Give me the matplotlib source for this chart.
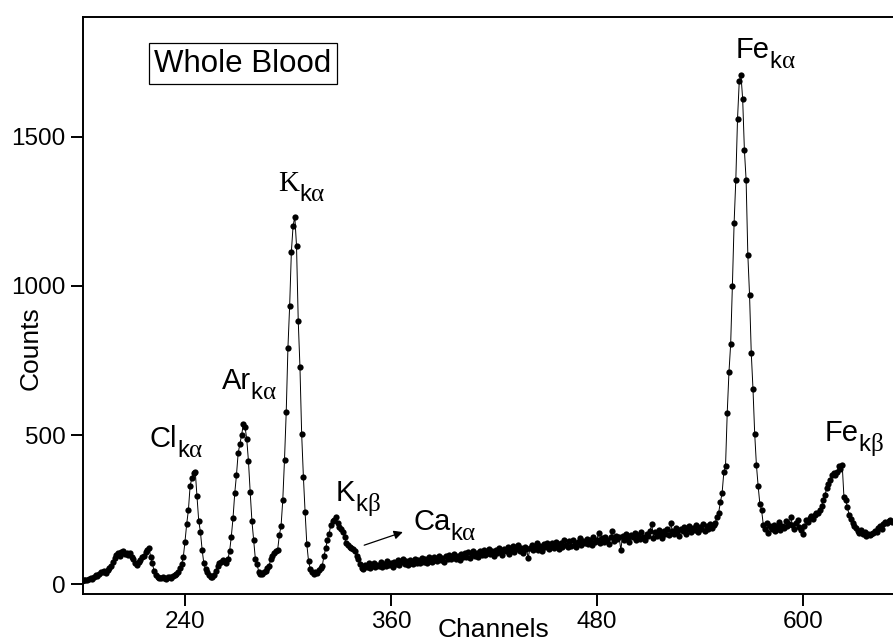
import numpy as np
import matplotlib.pyplot as plt

plt.rcParams['font.family'] = ['Liberation Sans', 'DejaVu Sans']

# spectrum, one value per channel starting at channel 180
first_channel = 180

# 180 - 343 : Cl, Ar, K peaks
counts_low = [
    12, 14, 15, 13, 18, 20, 19, 25, 30, 28,
    36, 42, 40, 45, 38, 48, 55, 62, 75, 88,
    97, 104, 96, 108, 110, 101, 106, 98, 104, 92,
    84, 72, 66, 76, 82, 90, 96, 108, 116, 123,
    92, 70, 45, 32, 26, 22, 20, 24, 21, 19,
    23, 25, 22, 28, 30, 34, 42, 54, 68, 90,
    143, 202, 249, 330, 355, 372, 377, 296, 213, 176,
    115, 70, 50, 40, 32, 26, 24, 30, 45, 62,
    70, 76, 81, 78, 70, 85, 110, 160, 222, 305,
    366, 440, 470, 500, 536, 528, 486, 412, 309, 213,
    148, 86, 67, 42, 36, 34, 40, 44, 54, 62,
    84, 95, 106, 112, 115, 165, 196, 283, 418, 577,
    793, 933, 1114, 1201, 1232, 1134, 883, 729, 503, 361,
    242, 135, 78, 52, 40, 35, 42, 38, 48, 55,
    62, 95, 120, 150, 170, 199, 212, 215, 227, 205,
    193, 185, 176, 160, 137, 130, 126, 120, 118, 112,
    95, 85, 68, 54,
]

# 344 - 548 : rising background (Ca region)
counts_mid = [
    52, 66, 58, 70, 55, 63, 72, 57, 66, 60,
    74, 58, 69, 62, 77, 64, 71, 59, 75, 68,
    80, 66, 74, 84, 69, 77, 63, 82, 73, 68,
    86, 72, 81, 70, 89, 76, 84, 71, 90, 79,
    75, 92, 83, 78, 95, 80, 88, 76, 94, 85,
    98, 84, 92, 102, 86, 96, 81, 100, 91, 105,
    93, 108, 88, 101, 112, 95, 104, 90, 110, 99,
    115, 97, 106, 118, 100, 111, 94, 116, 104, 121,
    108, 99, 119, 112, 124, 103, 116, 127, 107, 118,
    130, 111, 122, 106, 125, 117, 88, 121, 132, 114,
    126, 138, 116, 129, 111, 134, 124, 140, 119, 131,
    137, 122, 143, 130, 118, 139, 126, 147, 133, 125,
    144, 129, 150, 136, 124, 141, 155, 132, 146, 138,
    152, 135, 147, 130, 158, 142, 149, 171, 137, 154,
    141, 160, 148, 135, 157, 180, 144, 163, 151, 158,
    115, 162, 149, 168, 155, 143, 166, 157, 171, 150,
    165, 152, 174, 160, 147, 170, 163, 178, 202, 156,
    176, 161, 182, 168, 155, 179, 170, 185, 164, 206,
    180, 167, 189, 175, 162, 186, 178, 193, 170, 184,
    195, 174, 188, 181, 199, 176, 192, 184, 201, 179,
    194, 185, 203, 190, 198,
]

# 549 - 652 : Fe peaks
counts_high = [
    205, 225, 240, 275, 305, 375, 395, 575, 710, 805,
    1000, 1210, 1355, 1560, 1685, 1707, 1625, 1455, 1355, 1105,
    970, 775, 655, 505, 400, 330, 270, 250, 200, 185,
    205, 172, 195, 186, 200, 178, 193, 208, 182, 197,
    188, 212, 194, 203, 225, 198, 186, 206, 214, 192,
    182, 168, 196, 214, 208, 221, 228, 219, 233, 240,
    238, 249, 262, 283, 300, 322, 335, 350, 366, 372,
    366, 377, 395, 385, 400, 294, 282, 260, 232, 220,
    204, 195, 188, 178, 171, 182, 168, 175, 162, 170,
    165, 168, 172, 180, 176, 188, 195, 186, 202, 210,
    204, 212, 215, 208,
]

counts = counts_low + counts_mid + counts_high
channels = np.arange(first_channel, first_channel + len(counts))

x_ticks = [240, 360, 480, 600]
y_ticks = [0, 500, 1000, 1500]

# element, greek letter, label position (channel, counts), serif main letter
peak_labels = [
    ("Cl", "\u03b1", 219.6, 461, False),
    ("Ar", "\u03b1", 261.4, 654, False),
    ("K", "\u03b1", 294.3, 1319, True),
    ("K", "\u03b2", 327.9, 279, False),
    ("Ca", "\u03b1", 373.0, 182, False),
    ("Fe", "\u03b1", 560.9, 1763, False),
    ("Fe", "\u03b2", 612.7, 481, False),
]

fig = plt.figure(figsize=(8.93, 6.41), dpi=100)
ax = fig.add_axes([0.0929, 0.0738, 0.9071, 0.9002])

ax.plot(channels, counts, color='black', lw=0.7, marker='o',
        markersize=4.5, markerfacecolor='black', markeredgewidth=0)

ax.set_xlim(180.55, 652.6)
ax.set_ylim(-31.5, 1902)
ax.set_xticks(x_ticks)
ax.set_yticks(y_ticks)
ax.tick_params(direction='out', length=8.6, width=1.4, labelsize=17.5, pad=4)
ax.tick_params(axis='x', pad=4)
for side in ['left', 'bottom', 'top']:
    ax.spines[side].set_linewidth(1.4)
ax.spines['right'].set_visible(False)

ax.set_xlabel("Channels", fontsize=19)
ax.xaxis.set_label_coords(0.507, -0.042)
ax.set_ylabel("Counts", fontsize=19)
ax.yaxis.set_label_coords(-0.05, 0.426)

ax.text(273.8, 1745, "Whole Blood", ha='center', va='center', fontsize=22.5,
        bbox=dict(boxstyle='square,pad=0.17', fc='white', ec='black', lw=0.9))

for elem, greek, x, y, serif in peak_labels:
    fam = 'Liberation Serif' if serif else 'Liberation Sans'
    main = ax.text(x, y, elem, fontsize=21, family=fam, ha='left', va='baseline')
    k = ax.annotate('k', xy=(1, 0), xycoords=main, xytext=(0, -6.5),
                    textcoords='offset points', fontsize=17,
                    family='Liberation Sans', ha='left', va='bottom')
    ax.annotate(greek, xy=(1, 0), xycoords=k, xytext=(0, 0),
                textcoords='offset points', fontsize=18,
                family='Liberation Serif', ha='left', va='bottom')

# arrow pointing to the Ca label
ax.annotate('', xy=(368.5, 178), xytext=(342.9, 128),
            arrowprops=dict(arrowstyle='-|>', color='black', lw=0.9,
                            mutation_scale=13))

fig.savefig('out.png', dpi=100)
